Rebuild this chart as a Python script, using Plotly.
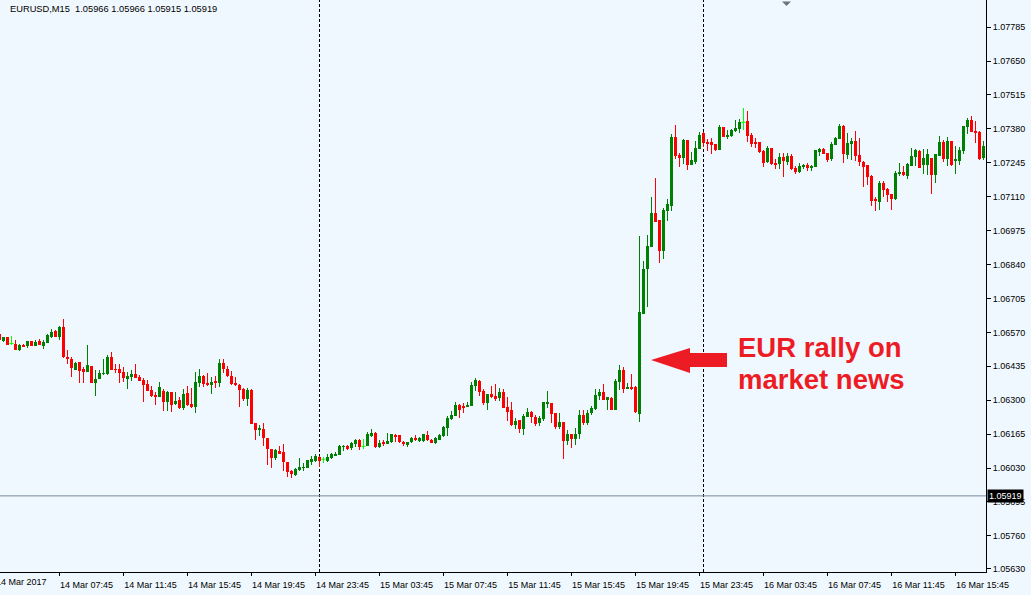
import plotly.graph_objects as go

# ---------------- data (EURUSD M15 candles) ----------------
opens = [
    1.06563, 1.06535, 1.06551, 1.06526, 1.06525, 1.06501, 1.06521, 1.06515, 1.06534, 1.06517,
    1.06535, 1.06517, 1.06529, 1.06551, 1.06575, 1.06551, 1.06591, 1.06471, 1.06463, 1.06421,
    1.06450, 1.06425, 1.06413, 1.06436, 1.06368, 1.06384, 1.06405, 1.06404, 1.06471, 1.06424,
    1.06424, 1.06412, 1.06384, 1.06393, 1.06404, 1.06392, 1.06381, 1.06364, 1.06340, 1.06317,
    1.06313, 1.06336, 1.06293, 1.06332, 1.06285, 1.06300, 1.06269, 1.06328, 1.06284, 1.06273,
    1.06368, 1.06396, 1.06368, 1.06361, 1.06376, 1.06368, 1.06448, 1.06424, 1.06396, 1.06368,
    1.06360, 1.06344, 1.06304, 1.06340, 1.06209, 1.06182, 1.06187, 1.06151, 1.06105, 1.06069,
    1.06097, 1.06093, 1.06053, 1.06017, 1.06001, 1.06023, 1.06031, 1.06029, 1.06053, 1.06057,
    1.06073, 1.06065, 1.06058, 1.06069, 1.06081, 1.06082, 1.06114, 1.06117, 1.06110, 1.06125,
    1.06141, 1.06116, 1.06117, 1.06157, 1.06170, 1.06113, 1.06133, 1.06125, 1.06133, 1.06161,
    1.06161, 1.06133, 1.06121, 1.06133, 1.06149, 1.06137, 1.06137, 1.06161, 1.06141, 1.06129,
    1.06141, 1.06157, 1.06189, 1.06225, 1.06237, 1.06281, 1.06276, 1.06276, 1.06278, 1.06356,
    1.06376, 1.06336, 1.06290, 1.06324, 1.06316, 1.06310, 1.06332, 1.06272, 1.06260, 1.06201,
    1.06221, 1.06185, 1.06233, 1.06252, 1.06233, 1.06209, 1.06225, 1.06286, 1.06288, 1.06248,
    1.06193, 1.06213, 1.06137, 1.06165, 1.06145, 1.06165, 1.06240, 1.06209, 1.06248, 1.06266,
    1.06316, 1.06332, 1.06300, 1.06308, 1.06260, 1.06372, 1.06420, 1.06346, 1.06352, 1.06352,
    1.06246, 1.06645, 1.06821, 1.06908, 1.07044, 1.07016, 1.06893, 1.07052, 1.07072, 1.07347,
    1.07276, 1.07264, 1.07335, 1.07236, 1.07248, 1.07299, 1.07363, 1.07327, 1.07327, 1.07319,
    1.07295, 1.07387, 1.07351, 1.07351, 1.07371, 1.07379, 1.07406, 1.07411, 1.07355, 1.07327,
    1.07327, 1.07291, 1.07248, 1.07303, 1.07244, 1.07240, 1.07268, 1.07248, 1.07272, 1.07224,
    1.07208, 1.07228, 1.07236, 1.07228, 1.07228, 1.07287, 1.07299, 1.07283, 1.07260, 1.07315,
    1.07339, 1.07391, 1.07276, 1.07319, 1.07331, 1.07276, 1.07248, 1.07236, 1.07192, 1.07100,
    1.07088, 1.07164, 1.07140, 1.07120, 1.07100, 1.07200, 1.07208, 1.07192, 1.07232, 1.07268,
    1.07291, 1.07236, 1.07236, 1.07264, 1.07196, 1.07272, 1.07327, 1.07260, 1.07331, 1.07252,
    1.07252, 1.07291, 1.07387, 1.07415, 1.07371, 1.07367, 1.07264,
]
highs = [
    1.06563, 1.06551, 1.06551, 1.06555, 1.06539, 1.06525, 1.06525, 1.06534, 1.06534, 1.06539,
    1.06543, 1.06538, 1.06562, 1.06583, 1.06579, 1.06595, 1.06623, 1.06499, 1.06471, 1.06453,
    1.06450, 1.06433, 1.06519, 1.06436, 1.06420, 1.06420, 1.06463, 1.06479, 1.06491, 1.06443,
    1.06443, 1.06432, 1.06412, 1.06420, 1.06443, 1.06400, 1.06388, 1.06380, 1.06356, 1.06333,
    1.06372, 1.06344, 1.06337, 1.06332, 1.06332, 1.06312, 1.06344, 1.06356, 1.06348, 1.06413,
    1.06424, 1.06400, 1.06408, 1.06392, 1.06396, 1.06463, 1.06463, 1.06436, 1.06416, 1.06392,
    1.06364, 1.06348, 1.06348, 1.06344, 1.06209, 1.06201, 1.06209, 1.06151, 1.06105, 1.06106,
    1.06117, 1.06124, 1.06055, 1.06021, 1.06029, 1.06069, 1.06049, 1.06061, 1.06077, 1.06085,
    1.06077, 1.06073, 1.06085, 1.06089, 1.06093, 1.06121, 1.06121, 1.06121, 1.06133, 1.06145,
    1.06145, 1.06145, 1.06174, 1.06185, 1.06174, 1.06141, 1.06141, 1.06169, 1.06165, 1.06165,
    1.06161, 1.06137, 1.06133, 1.06153, 1.06161, 1.06153, 1.06165, 1.06177, 1.06145, 1.06153,
    1.06165, 1.06197, 1.06237, 1.06257, 1.06293, 1.06285, 1.06290, 1.06292, 1.06372, 1.06388,
    1.06380, 1.06344, 1.06324, 1.06356, 1.06364, 1.06348, 1.06344, 1.06312, 1.06292, 1.06229,
    1.06221, 1.06244, 1.06268, 1.06256, 1.06240, 1.06236, 1.06292, 1.06336, 1.06288, 1.06248,
    1.06248, 1.06213, 1.06181, 1.06165, 1.06189, 1.06260, 1.06260, 1.06260, 1.06276, 1.06344,
    1.06344, 1.06364, 1.06312, 1.06312, 1.06384, 1.06440, 1.06432, 1.06368, 1.06404, 1.06356,
    1.06952, 1.06853, 1.06956, 1.07108, 1.07184, 1.07016, 1.07064, 1.07100, 1.07359, 1.07395,
    1.07284, 1.07339, 1.07335, 1.07288, 1.07331, 1.07367, 1.07367, 1.07339, 1.07343, 1.07319,
    1.07395, 1.07387, 1.07375, 1.07379, 1.07415, 1.07419, 1.07463, 1.07451, 1.07363, 1.07343,
    1.07327, 1.07295, 1.07311, 1.07303, 1.07260, 1.07283, 1.07283, 1.07283, 1.07280, 1.07232,
    1.07244, 1.07240, 1.07244, 1.07236, 1.07295, 1.07303, 1.07303, 1.07283, 1.07327, 1.07347,
    1.07399, 1.07395, 1.07363, 1.07343, 1.07371, 1.07343, 1.07252, 1.07236, 1.07196, 1.07108,
    1.07172, 1.07172, 1.07144, 1.07120, 1.07212, 1.07244, 1.07232, 1.07244, 1.07303, 1.07299,
    1.07295, 1.07299, 1.07299, 1.07264, 1.07280, 1.07351, 1.07335, 1.07347, 1.07331, 1.07311,
    1.07307, 1.07391, 1.07423, 1.07431, 1.07411, 1.07371, 1.07331,
]
lows = [
    1.06539, 1.06531, 1.06521, 1.06518, 1.06501, 1.06497, 1.06513, 1.06509, 1.06515, 1.06517,
    1.06521, 1.06505, 1.06529, 1.06547, 1.06551, 1.06539, 1.06467, 1.06446, 1.06393, 1.06421,
    1.06369, 1.06369, 1.06413, 1.06368, 1.06317, 1.06384, 1.06400, 1.06400, 1.06421, 1.06409,
    1.06369, 1.06372, 1.06344, 1.06376, 1.06389, 1.06376, 1.06293, 1.06337, 1.06313, 1.06281,
    1.06313, 1.06257, 1.06257, 1.06253, 1.06281, 1.06265, 1.06261, 1.06277, 1.06269, 1.06249,
    1.06353, 1.06353, 1.06357, 1.06325, 1.06349, 1.06352, 1.06408, 1.06392, 1.06360, 1.06356,
    1.06272, 1.06296, 1.06276, 1.06206, 1.06142, 1.06158, 1.06118, 1.06042, 1.06032, 1.06061,
    1.06086, 1.06019, 1.05993, 1.05991, 1.05997, 1.06017, 1.06017, 1.06029, 1.06041, 1.06053,
    1.06035, 1.06049, 1.06053, 1.06065, 1.06077, 1.06082, 1.06097, 1.06101, 1.06101, 1.06113,
    1.06101, 1.06105, 1.06117, 1.06153, 1.06109, 1.06109, 1.06117, 1.06125, 1.06129, 1.06133,
    1.06129, 1.06117, 1.06113, 1.06129, 1.06137, 1.06133, 1.06133, 1.06137, 1.06129, 1.06125,
    1.06141, 1.06153, 1.06157, 1.06221, 1.06237, 1.06229, 1.06250, 1.06274, 1.06278, 1.06336,
    1.06318, 1.06282, 1.06262, 1.06310, 1.06298, 1.06298, 1.06270, 1.06218, 1.06197, 1.06185,
    1.06169, 1.06161, 1.06233, 1.06209, 1.06198, 1.06197, 1.06217, 1.06268, 1.06209, 1.06185,
    1.06185, 1.06065, 1.06121, 1.06109, 1.06121, 1.06145, 1.06201, 1.06201, 1.06240, 1.06260,
    1.06300, 1.06300, 1.06260, 1.06260, 1.06260, 1.06340, 1.06328, 1.06344, 1.06340, 1.06248,
    1.06214, 1.06645, 1.06669, 1.06908, 1.07008, 1.06845, 1.06861, 1.07012, 1.07052, 1.07260,
    1.07228, 1.07240, 1.07216, 1.07236, 1.07240, 1.07299, 1.07307, 1.07291, 1.07280, 1.07291,
    1.07295, 1.07347, 1.07339, 1.07347, 1.07367, 1.07363, 1.07375, 1.07327, 1.07307, 1.07303,
    1.07283, 1.07228, 1.07244, 1.07236, 1.07220, 1.07220, 1.07188, 1.07236, 1.07216, 1.07200,
    1.07204, 1.07220, 1.07212, 1.07212, 1.07228, 1.07271, 1.07280, 1.07248, 1.07252, 1.07315,
    1.07339, 1.07244, 1.07260, 1.07256, 1.07252, 1.07232, 1.07148, 1.07156, 1.07072, 1.07052,
    1.07056, 1.07108, 1.07088, 1.07056, 1.07096, 1.07192, 1.07192, 1.07180, 1.07232, 1.07232,
    1.07224, 1.07200, 1.07196, 1.07120, 1.07164, 1.07272, 1.07248, 1.07232, 1.07232, 1.07200,
    1.07236, 1.07280, 1.07359, 1.07367, 1.07323, 1.07256, 1.07256,
]
closes = [
    1.06539, 1.06551, 1.06521, 1.06526, 1.06501, 1.06521, 1.06513, 1.06534, 1.06515, 1.06531,
    1.06521, 1.06531, 1.06558, 1.06571, 1.06551, 1.06591, 1.06471, 1.06463, 1.06429, 1.06449,
    1.06417, 1.06413, 1.06440, 1.06368, 1.06384, 1.06408, 1.06408, 1.06471, 1.06421, 1.06421,
    1.06409, 1.06388, 1.06396, 1.06404, 1.06389, 1.06377, 1.06361, 1.06337, 1.06317, 1.06313,
    1.06352, 1.06293, 1.06332, 1.06281, 1.06296, 1.06269, 1.06324, 1.06281, 1.06273, 1.06372,
    1.06396, 1.06365, 1.06361, 1.06372, 1.06368, 1.06448, 1.06424, 1.06396, 1.06364, 1.06360,
    1.06340, 1.06304, 1.06340, 1.06206, 1.06182, 1.06190, 1.06151, 1.06104, 1.06069, 1.06101,
    1.06086, 1.06055, 1.06015, 1.06007, 1.06025, 1.06033, 1.06033, 1.06061, 1.06066, 1.06077,
    1.06057, 1.06065, 1.06074, 1.06084, 1.06086, 1.06117, 1.06117, 1.06105, 1.06129, 1.06141,
    1.06113, 1.06116, 1.06166, 1.06170, 1.06113, 1.06129, 1.06126, 1.06137, 1.06165, 1.06154,
    1.06133, 1.06124, 1.06133, 1.06149, 1.06141, 1.06148, 1.06165, 1.06141, 1.06129, 1.06149,
    1.06161, 1.06193, 1.06229, 1.06241, 1.06281, 1.06261, 1.06270, 1.06282, 1.06360, 1.06380,
    1.06332, 1.06290, 1.06324, 1.06314, 1.06306, 1.06332, 1.06270, 1.06254, 1.06201, 1.06217,
    1.06185, 1.06236, 1.06252, 1.06233, 1.06206, 1.06229, 1.06292, 1.06292, 1.06246, 1.06193,
    1.06213, 1.06137, 1.06165, 1.06145, 1.06165, 1.06240, 1.06209, 1.06248, 1.06268, 1.06320,
    1.06332, 1.06300, 1.06312, 1.06260, 1.06376, 1.06420, 1.06344, 1.06352, 1.06348, 1.06252,
    1.06653, 1.06821, 1.06912, 1.07044, 1.07008, 1.06893, 1.07056, 1.07080, 1.07347, 1.07272,
    1.07264, 1.07335, 1.07236, 1.07256, 1.07303, 1.07355, 1.07323, 1.07323, 1.07315, 1.07295,
    1.07387, 1.07347, 1.07355, 1.07375, 1.07383, 1.07407, 1.07406, 1.07351, 1.07319, 1.07319,
    1.07287, 1.07244, 1.07303, 1.07240, 1.07240, 1.07268, 1.07252, 1.07272, 1.07220, 1.07208,
    1.07232, 1.07236, 1.07224, 1.07232, 1.07295, 1.07299, 1.07280, 1.07256, 1.07319, 1.07343,
    1.07391, 1.07280, 1.07323, 1.07331, 1.07272, 1.07248, 1.07228, 1.07188, 1.07092, 1.07092,
    1.07164, 1.07136, 1.07116, 1.07100, 1.07204, 1.07208, 1.07196, 1.07240, 1.07272, 1.07295,
    1.07224, 1.07264, 1.07280, 1.07196, 1.07280, 1.07327, 1.07260, 1.07331, 1.07236, 1.07260,
    1.07295, 1.07391, 1.07415, 1.07367, 1.07363, 1.07260, 1.07311,
]

# time axis: candle index 0 = 14 Mar 04:00, one candle per 15 minutes
x_tick_pos = [15, 31, 47, 63, 79, 95, 111, 127, 143, 159, 175, 191, 207, 223, 239]
x_tick_text = [
    "14 Mar 07:45", "14 Mar 11:45", "14 Mar 15:45", "14 Mar 19:45", "14 Mar 23:45",
    "15 Mar 03:45", "15 Mar 07:45", "15 Mar 11:45", "15 Mar 15:45", "15 Mar 19:45",
    "15 Mar 23:45", "16 Mar 03:45", "16 Mar 07:45", "16 Mar 11:45", "16 Mar 15:45",
]
first_date_label = "14 Mar 2017"
y_tick_vals = [
    1.07785, 1.07650, 1.07515, 1.07380, 1.07245, 1.07110, 1.06975, 1.06840, 1.06705,
    1.06570, 1.06435, 1.06300, 1.06165, 1.06030, 1.05895, 1.05760, 1.05630,
]
day_separators = [80, 176]
last_price = 1.05919
title_text = "EURUSD,M15\u00a0 1.05966 1.05966 1.05915 1.05919"
note_lines = ["EUR rally on", "market news"]

# ---------------- styling ----------------
BG = "#F0F8FF"
UP, DOWN, DOJI = "#008000", "#FF0000", "#00FF00"
ARROW_RED = "#ED1C24"
FONT = "Liberation Sans"
W, H = 1031, 595
ML, MR, MT, MB = 0, 45, 0, 23
PW, PH = W - ML - MR, H - MT - MB


def px(xp):
    return xp / PW


def py(yp):
    return 1 - yp / PH


idx = list(range(len(opens)))
colors = [DOJI if c == o else (UP if c > o else DOWN) for o, c in zip(opens, closes)]
body_idx = [i for i in idx if opens[i] != closes[i]]
doji_idx = [i for i in idx if opens[i] == closes[i]]

fig = go.Figure()
# wicks
fig.add_trace(go.Bar(
    x=idx, y=[h - l for h, l in zip(highs, lows)], base=lows, width=0.25,
    marker=dict(color=colors, line=dict(width=0)), hoverinfo="skip",
))
# bodies
fig.add_trace(go.Bar(
    x=body_idx,
    y=[abs(closes[i] - opens[i]) for i in body_idx],
    base=[min(opens[i], closes[i]) for i in body_idx],
    width=0.75,
    marker=dict(color=[colors[i] for i in body_idx], line=dict(width=0)),
    hoverinfo="skip",
))
# doji crosses
fig.add_trace(go.Scatter(
    x=doji_idx, y=[opens[i] for i in doji_idx], mode="markers",
    marker=dict(symbol="line-ew", size=3, color=DOJI, line=dict(width=1, color=DOJI)),
    hoverinfo="skip",
))

shapes = []
for d in day_separators:
    shapes.append(dict(type="line", xref="x", yref="paper", x0=d, x1=d, y0=0, y1=1,
                       line=dict(color="black", width=1, dash="3px,2px"), layer="below"))
shapes.append(dict(type="line", xref="paper", yref="y", x0=0, x1=1, y0=last_price, y1=last_price,
                   line=dict(color="#778899", width=1), layer="below"))
# red arrow pointing at the rally candle
arrow_pts = [(651, 360), (690, 348), (690, 353), (727, 353), (727, 367), (690, 367), (690, 373)]
path = "M " + " L ".join(f"{px(a):.5f},{py(b):.5f}" for a, b in arrow_pts) + " Z"
shapes.append(dict(type="path", xref="paper", yref="paper", path=path,
                   fillcolor=ARROW_RED, line=dict(width=0)))
# small shift marker at top
tri = [(782, 1.5), (791, 1.5), (786.5, 6)]
shapes.append(dict(type="path", xref="paper", yref="paper",
                   path="M " + " L ".join(f"{px(a):.5f},{py(b):.5f}" for a, b in tri) + " Z",
                   fillcolor="#6B7480", line=dict(width=0)))

annotations = [
    dict(text=title_text, xref="paper", yref="paper", x=0, y=1, xanchor="left", yanchor="top",
         xshift=8, yshift=-2, showarrow=False, font=dict(family=FONT, size=9.3, color="black")),
    dict(text=first_date_label, xref="paper", yref="paper", x=0, y=0, xanchor="left", yanchor="top",
         xshift=-6, yshift=-3, showarrow=False, font=dict(family=FONT, size=9, color="black")),
    dict(text=f"{last_price:.5f}", xref="paper", yref="y", x=1, y=last_price, xanchor="left",
         yanchor="middle", xshift=1, showarrow=False, bgcolor="black", borderpad=1,
         font=dict(family=FONT, size=9, color="white")),
    dict(text=f"<b>{note_lines[0]}</b>", xref="paper", yref="paper", x=px(736), y=py(347),
         xanchor="left", yanchor="middle", showarrow=False,
         font=dict(family=FONT, size=27.5, color=ARROW_RED)),
    dict(text=f"<b>{note_lines[1]}</b>", xref="paper", yref="paper", x=px(736), y=py(379),
         xanchor="left", yanchor="middle", showarrow=False,
         font=dict(family=FONT, size=27.5, color=ARROW_RED)),
]

fig.update_layout(
    width=W, height=H,
    margin=dict(l=ML, r=MR, t=MT, b=MB, pad=0, autoexpand=False),
    paper_bgcolor=BG, plot_bgcolor=BG,
    showlegend=False, barmode="overlay", bargap=0,
    shapes=shapes, annotations=annotations,
    xaxis=dict(
        range=[0.125, 246.625], tickmode="array", tickvals=x_tick_pos, ticktext=x_tick_text,
        ticks="outside", ticklen=3, tickwidth=1, tickcolor="black", automargin=False,
        showline=True, linecolor="black", linewidth=1, showgrid=False, zeroline=False,
        tickangle=0, ticklabelshift=27, ticklabelstandoff=1,
        tickfont=dict(family=FONT, size=9, color="black"), fixedrange=True,
    ),
    yaxis=dict(
        range=[1.05616, 1.07893], side="right", tickmode="array", tickvals=y_tick_vals,
        tickformat=".5f", ticks="outside", ticklen=4, tickwidth=1, tickcolor="black",
        automargin=False,
        showline=True, linecolor="black", linewidth=1, showgrid=False, zeroline=False,
        tickfont=dict(family=FONT, size=9, color="black"), fixedrange=True,
    ),
)

fig.write_html(
    "out.html",
    config={"displayModeBar": False},
    post_script="document.body.style.margin='0';document.body.style.padding='0';"
                "document.body.style.overflow='hidden';",
)
